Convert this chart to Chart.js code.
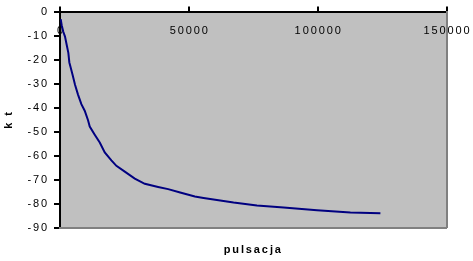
<!DOCTYPE html>
<html><head><meta charset="utf-8">
<script src="https://cdn.jsdelivr.net/npm/chart.js@4/dist/chart.umd.min.js"></script>
<style>html,body{margin:0;padding:0;background:#fff;overflow:hidden}canvas{display:block}</style>
</head><body>
<canvas id="c" width="473" height="261" style="width:473px;height:261px"></canvas>
<script>
const pulsacja = [270, 660, 1280, 1940, 2590, 3240, 3630, 4270, 4920, 5830, 6990, 8290, 9590, 10880, 11540, 13480, 15430, 17370, 19940, 21880, 25140, 29030, 32910, 38080, 41970, 46630, 52340, 55700, 67360, 76430, 86790, 99740, 112700, 124350];
const kt = [-3.1, -5.7, -8.4, -10.4, -13.8, -17.2, -21.2, -23.8, -26.5, -30.5, -34.6, -38.6, -41.3, -45.3, -47.9, -51.3, -54.6, -58.7, -62.0, -64.3, -66.7, -69.6, -71.8, -73.1, -74.0, -75.4, -77.1, -77.7, -79.6, -80.8, -81.7, -82.8, -83.7, -84.1];
const xTickValues = [0, 50000, 100000, 150000];
const xTickLabels = ['0', '50000', '100000', '150000'];
const yTickValues = [0, -10, -20, -30, -40, -50, -60, -70, -80, -90];
const yTickLabels = ['0', '-10', '-20', '-30', '-40', '-50', '-60', '-70', '-80', '-90'];
const xTitle = 'pulsacja';
const yTitle = 'k t';

const FONT = 'Liberation Sans';
const SPACING = '1.9px';

const spacingPlugin = {
  id: 'spacingBg',
  beforeUpdate(c) { c.ctx.letterSpacing = SPACING; },
  beforeLayout(c) { c.ctx.letterSpacing = SPACING; },
  beforeDraw(c) {
    const ctx = c.ctx;
    ctx.letterSpacing = SPACING;
    const a = c.chartArea;
    ctx.save();
    ctx.fillStyle = '#C0C0C0';
    ctx.fillRect(a.left, a.top, a.right - a.left, a.bottom - a.top);
    ctx.restore();
  }
};

const points = pulsacja.map((x, i) => ({ x: x, y: kt[i] }));

new Chart(document.getElementById('c'), {
  type: 'scatter',
  data: { datasets: [{
    data: points, showLine: true, borderColor: '#000080', backgroundColor: '#000080',
    borderWidth: 2, pointRadius: 0, tension: 0, xAxisID: 'x', yAxisID: 'y'
  }]},
  options: {
    responsive: false, animation: false, devicePixelRatio: 1,
    layout: { padding: 0 },
    plugins: { legend: { display: false }, tooltip: { enabled: false }, title: { display: false } },
    scales: {
      x: {
        type: 'linear', position: 'top', min: 0, max: 150000,
        afterBuildTicks(s) { s.ticks = xTickValues.map(v => ({ value: v })); },
        ticks: {
          mirror: true, padding: 2, color: '#000', maxRotation: 0, labelOffset: 1,
          font: { family: FONT, size: 11, lineHeight: 3.2 },
          callback: (v) => xTickLabels[xTickValues.indexOf(v)]
        },
        grid: { drawOnChartArea: false, drawTicks: true, tickLength: 5, color: '#000', lineWidth: 2 },
        border: { display: true, color: '#000', width: 2 },
        afterFit(s) { s.height = 5; }
      },
      y: {
        type: 'linear', position: 'left', min: -90, max: 0,
        afterBuildTicks(s) { s.ticks = yTickValues.slice().reverse().map(v => ({ value: v })); },
        ticks: {
          padding: 5, color: '#000',
          font: { family: FONT, size: 11 },
          callback: (v) => yTickLabels[yTickValues.indexOf(v)]
        },
        grid: { drawOnChartArea: false, drawTicks: true, tickLength: 6, color: '#000', lineWidth: 2 },
        border: { display: true, color: '#000', width: 2 },
        title: { display: true, text: yTitle, color: '#000', font: { family: FONT, size: 11, weight: 'bold' }, padding: { top: 2, bottom: 0 } },
        afterFit(s) { s.width = 60; }
      },
      x2: {
        type: 'linear', position: 'bottom', min: 0, max: 150000,
        ticks: { display: false },
        grid: { drawOnChartArea: false, drawTicks: false },
        border: { display: true, color: '#808080', width: 2 },
        title: { display: true, text: xTitle, color: '#000', font: { family: FONT, size: 11, weight: 'bold' }, padding: { top: 0, bottom: 4 } },
        afterFit(s) { s.height = 33.5; }
      },
      y2: {
        type: 'linear', position: 'right', min: -90, max: 0,
        ticks: { display: false },
        grid: { drawOnChartArea: false, drawTicks: false },
        border: { display: true, color: '#808080', width: 2 },
        afterFit(s) { s.width = 26.5; }
      }
    }
  },
  plugins: [spacingPlugin]
});
</script>
</body></html>
